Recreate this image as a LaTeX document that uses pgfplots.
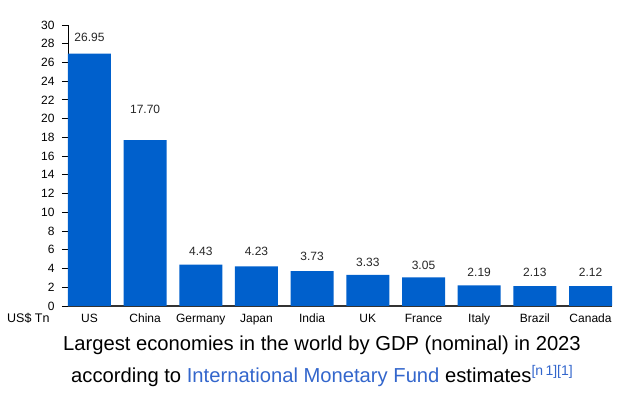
\documentclass[border=0pt]{standalone}
\usepackage{pgfplots}
\pgfplotsset{compat=1.18}
\usepackage{fontspec}
\setmainfont{Liberation Sans}
\definecolor{barblue}{RGB}{0,96,204}
\definecolor{linkblue}{RGB}{51,102,204}
\begin{document}
\begin{tikzpicture}[x=1pt,y=1pt]
\useasboundingbox (0,0) rectangle (640,396);
\begin{axis}[
  at={(68pt,90pt)}, anchor=south west,
  width=544pt, height=281pt, scale only axis,
  xmin=-0.386, xmax=9.386, ymin=0, ymax=30,
  axis lines=left,
  axis line style={-},
  x axis line style={draw=black!80, line width=1.3pt},
  y axis line style={draw=black, line width=0.9pt},
  ytick={0,2,...,30},
  xtick={0,...,9},
  xticklabels={US,China,Germany,Japan,India,UK,France,Italy,Brazil,Canada},
  xtick style={draw=none},
  ytick style={draw=black, line width=0.9pt},
  tick align=outside,
  major tick length=6pt,
  tick label style={font=\fontsize{12}{14}\selectfont},
  yticklabel style={xshift=-4pt},
  xticklabel style={anchor=north, text height=8.6pt, text depth=2.5pt, inner sep=0pt, yshift=-2pt},
  /pgf/number format/assume math mode=true,
  clip=false,
]
\addplot[ybar, bar width=43pt, bar shift=0pt, fill=barblue, draw=none]
  coordinates {(0,26.95) (1,17.70) (2,4.43) (3,4.23) (4,3.73) (5,3.33) (6,3.05) (7,2.19) (8,2.13) (9,2.12)};
\addplot[draw=none, mark=none, nodes near coords, point meta=explicit symbolic,
  every node near coord/.append style={anchor=center, font=\fontsize{12}{14}\selectfont, text=black!85}]
  coordinates {(0,28.7)[26.95] (1,21.0)[17.70] (2,5.87)[4.43] (3,5.87)[4.23] (4,5.34)[3.73] (5,4.70)[3.33] (6,4.32)[3.05] (7,3.63)[2.19] (8,3.63)[2.13] (9,3.63)[2.12]};
\end{axis}
\node[anchor=west, font=\fontsize{12.5}{14}\selectfont, inner sep=0pt] at (7,78) {US\$ Tn};
\node[anchor=base, font=\fontsize{20.2}{24}\selectfont, inner sep=0pt] at (322,45) {Largest economies in the world by GDP (nominal) in 2023};
\node[anchor=base, font=\fontsize{20.2}{24}\selectfont, inner sep=0pt] at (322,13) {according to \textcolor{linkblue}{International Monetary Fund} estimates\textcolor{linkblue}{\raisebox{7pt}{\fontsize{14}{16}\selectfont[n\,1][1]}}};
\end{tikzpicture}
\end{document}
